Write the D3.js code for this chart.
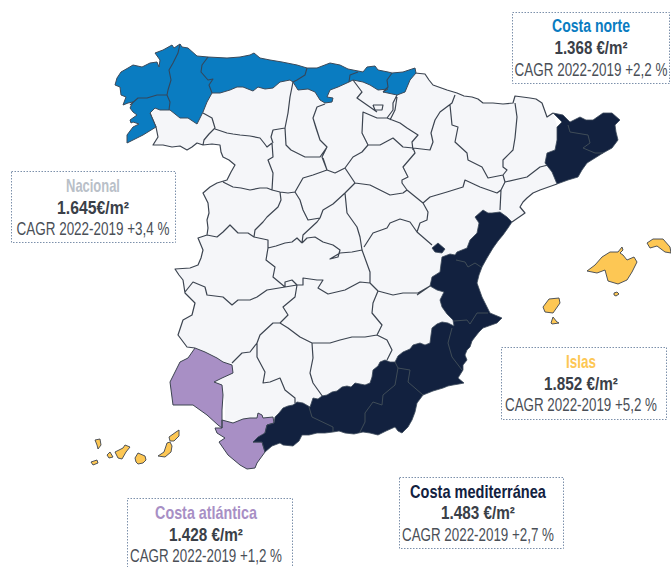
<!DOCTYPE html>
<html>
<head>
<meta charset="utf-8">
<script src="https://cdn.jsdelivr.net/npm/d3@7"></script>
<style>
html, body { margin: 0; padding: 0; background: #fff; }
svg { display: block; }
</style>
</head>
<body>
<script>
// map geometry, planar units of the picture
var interiorLand = [[150,113],[156,127],[158,137],[153,145],[163,145],[172,147],[180,146],[187,150],[192,147],[197,143],[203,145],[212,144],[220,145],[221,152],[223,157],[229,160],[235,165],[231,172],[227,180],[217,183],[210,187],[203,193],[208,203],[209,213],[207,220],[208,228],[207,235],[198,238],[203,250],[201,258],[198,265],[190,268],[175,269],[179,275],[183,280],[185,293],[195,303],[192,315],[183,320],[178,335],[187,347],[195,348],[195,365],[225,400],[225,420],[275,420],[350,400],[440,340],[460,320],[470,290],[470,250],[490,230],[512,222],[525,213],[520,207],[523,202],[527,198],[533,193],[540,190],[557,184],[565,150],[553,113],[547,117],[542,103],[536,99],[530,98],[515,96],[513,103],[503,104],[493,103],[483,103],[478,99],[472,97],[464,96],[457,93],[447,90],[433,85],[429,80],[425,74],[415,73],[380,70],[200,70],[160,100]];

var costaNorte = [[127,143],[127,135],[133,127],[139,124],[133,122],[131,123],[130,120],[137,115],[133,112],[130,108],[133,102],[128,103],[123,105],[126,97],[121,95],[120,87],[115,85],[117,78],[121,72],[128,68],[133,65],[142,67],[150,63],[157,62],[159,67],[160,60],[155,53],[163,50],[172,45],[174,48],[180,44],[182,47],[188,48],[197,56],[208,57],[227,58],[240,57],[250,55],[254,53],[260,58],[270,60],[282,62],[297,65],[307,68],[317,68],[330,63],[340,65],[348,69],[358,71],[363,72],[367,67],[375,66],[378,70],[388,72],[392,73],[403,72],[415,68],[416,73],[410,80],[405,92],[397,95],[383,92],[388,89],[378,90],[370,85],[363,82],[353,80],[349,82],[338,87],[330,90],[327,97],[333,98],[332,102],[325,103],[320,100],[315,92],[308,89],[298,90],[293,82],[290,80],[280,82],[273,88],[265,89],[258,87],[253,91],[243,87],[237,87],[230,90],[220,93],[212,93],[207,102],[203,112],[200,118],[197,124],[188,118],[180,118],[170,110],[160,110],[155,108],[150,113],[156,127],[143,135]];

var huelva = [[195,348],[205,352],[217,358],[223,362],[232,365],[233,373],[222,378],[214,382],[222,385],[223,395],[222,410],[222,428],[218,425],[207,415],[193,405],[173,405],[170,382],[180,362],[188,358]];
var cadiz = [[215,428],[222,428],[222,420],[233,423],[243,419],[250,418],[257,418],[258,413],[262,415],[263,418],[273,417],[274,423],[267,425],[265,433],[258,440],[253,442],[262,442],[265,452],[257,463],[255,468],[247,469],[240,465],[228,455],[219,442],[225,438],[217,433]];

var costaMedSur = [[253,442],[258,437],[265,433],[267,425],[274,423],[275,417],[279,413],[283,408],[288,406],[293,405],[297,402],[303,403],[310,407],[313,398],[318,399],[322,396],[327,395],[332,392],[337,391],[342,387],[347,386],[351,387],[355,383],[360,384],[365,385],[370,383],[372,377],[373,370],[378,366],[380,362],[385,360],[390,362],[395,362],[398,356],[403,352],[410,349],[413,345],[420,343],[425,345],[430,343],[431,335],[432,328],[437,324],[442,322],[448,323],[454,326],[453,320],[447,314],[442,307],[440,300],[444,292],[437,290],[430,286],[432,277],[440,272],[441,264],[442,257],[450,254],[455,255],[457,252],[467,248],[470,240],[477,233],[479,223],[475,217],[483,210],[488,213],[492,213],[500,212],[507,217],[512,222],[508,228],[503,235],[498,241],[493,248],[487,258],[482,267],[479,275],[477,283],[482,297],[486,305],[490,313],[502,318],[497,323],[483,328],[479,332],[475,337],[472,341],[470,347],[467,350],[465,355],[467,360],[463,365],[463,370],[458,378],[464,383],[459,384],[453,385],[448,386],[443,388],[433,391],[423,395],[420,399],[417,403],[415,412],[412,420],[408,427],[402,433],[398,431],[395,427],[386,431],[378,435],[370,433],[363,432],[354,434],[345,433],[339,431],[333,432],[325,433],[317,433],[309,435],[302,435],[299,441],[293,446],[283,445],[280,443],[272,446],[265,452],[262,442]];
var rincon = [[432,248],[438,243],[445,249],[442,253],[435,252]];
var costaMedNorte = [[553,113],[563,115],[570,122],[580,117],[586,120],[593,120],[603,113],[612,113],[620,120],[615,125],[616,132],[618,140],[612,148],[603,153],[595,158],[587,163],[582,170],[578,177],[568,180],[557,184],[552,172],[545,163],[547,153],[555,150],[557,140],[557,127],[562,122]];

var islasBaleares = [
  [[587,271],[595,265],[602,257],[610,252],[618,252],[622,247],[623,250],[620,253],[623,255],[627,260],[634,257],[637,262],[632,272],[627,280],[618,284],[608,281],[605,270],[597,273]],
  [[647,243],[653,239],[663,239],[670,247],[671,253],[665,252],[657,246],[650,248]],
  [[614,293],[617,292],[619,294],[616,296],[614,295]],
  [[543,307],[549,299],[559,298],[560,303],[553,313],[545,312]],
  [[551,323],[553,317],[557,322],[559,323],[552,324]]
];
var islasCanarias = [
  [[169,437],[176,432],[179,430],[179,436],[174,441],[170,441]],
  [[158,456],[164,452],[167,443],[170,442],[172,446],[171,452],[165,457]],
  [[135,458],[138,453],[145,456],[146,460],[143,463],[138,464],[136,462]],
  [[115,452],[123,448],[125,445],[130,447],[126,452],[122,459],[118,458]],
  [[107,455],[110,452],[113,457],[109,458]],
  [[95,440],[100,439],[101,445],[98,449],[97,445]],
  [[91,462],[97,460],[98,463],[93,465]]
];

// province borders
var bordesInterior = [
  [[203,113],[212,118],[215,128],[209,134],[204,140],[203,145]],
  [[215,129],[227,133],[233,134],[240,135],[250,136],[260,138],[264,143],[267,147],[272,143]],
  [[293,82],[290,97],[288,113],[285,128],[273,130],[271,137],[273,143]],
  [[285,128],[286,145],[291,150],[297,153],[305,157],[320,157],[327,147],[320,140],[316,128],[313,118],[317,107],[325,104]],
  [[272,143],[273,157],[268,160],[273,173],[272,190]],
  [[323,158],[327,170],[313,175],[303,178],[295,192],[288,193],[280,192],[272,190]],
  [[223,182],[233,187],[241,188],[250,190],[260,188],[267,188],[272,190]],
  [[280,192],[281,200],[278,207],[267,217],[263,222],[255,230],[254,237]],
  [[207,235],[217,237],[223,232],[230,225],[238,233],[248,233],[254,237],[268,240],[268,248],[276,246],[285,243],[292,242],[297,238],[302,243]],
  [[295,192],[300,200],[303,210],[308,220],[320,218]],
  [[320,218],[317,222],[303,235],[302,243]],
  [[320,218],[323,210],[333,204],[345,193],[347,213],[357,227],[360,237],[362,250]],
  [[302,243],[307,238],[315,237],[323,242],[333,245],[340,250],[338,257],[330,259],[340,253],[352,252],[362,250]],
  [[364,247],[373,233],[387,228],[390,223],[400,219],[410,222],[417,232],[432,245]],
  [[417,232],[420,223],[427,220],[428,212],[423,203],[430,197],[447,192],[463,187],[465,180],[480,187],[497,193],[501,190],[505,182]],
  [[345,193],[355,183],[370,185],[380,190],[390,195],[403,193],[407,190],[423,203]],
  [[407,190],[402,183],[402,180],[408,177],[403,167],[415,153],[413,148]],
  [[317,107],[313,118],[320,140],[327,147],[322,157],[327,170],[335,173],[345,168],[355,183]],
  [[345,168],[353,157],[362,152],[368,145],[362,133],[363,112],[377,118],[387,118],[393,110],[393,103],[397,95]],
  [[353,80],[362,92],[357,98],[367,105],[377,112]],
  [[373,105],[383,105],[382,110],[375,110],[373,105]],
  [[368,145],[380,145],[393,138],[403,147],[413,148]],
  [[387,118],[400,123],[407,128],[418,135],[412,142],[413,150]],
  [[397,97],[395,110],[390,120]],
  [[455,95],[452,103],[440,112],[435,120],[431,133],[433,142],[430,150],[413,148]],
  [[450,105],[452,125],[458,127],[455,142],[467,153],[468,160],[482,167],[488,178],[503,175]],
  [[515,103],[517,117],[515,138],[513,150],[503,160],[503,167],[507,170],[503,175],[505,182]],
  [[505,182],[527,177],[540,167],[548,165]],
  [[501,190],[500,210]],
  [[417,295],[430,286]],
  [[362,250],[370,272],[370,283],[378,291],[393,295],[403,293],[418,293],[430,286]],
  [[297,285],[303,285],[303,278],[317,280],[323,280],[318,288],[328,294],[345,290],[360,282],[370,283]],
  [[285,287],[285,282],[292,280],[297,285]],
  [[268,248],[266,260],[275,267],[273,277],[285,287]],
  [[185,292],[193,282],[205,287],[207,295],[223,297],[232,305],[238,300],[250,300],[257,297],[267,290],[285,287],[297,285]],
  [[297,285],[295,297],[283,307],[288,315],[280,323]],
  [[280,323],[273,323],[260,335],[257,343],[257,357],[265,372],[263,383],[270,382],[280,378],[285,390],[295,398],[295,403]],
  [[232,363],[242,353],[250,352],[257,343]],
  [[280,323],[288,328],[300,337],[312,343],[330,343],[340,340],[352,337],[365,337],[377,335],[387,340],[392,350],[387,360]],
  [[312,343],[313,358],[310,373],[313,383],[323,397]],
  [[378,291],[373,303],[372,313],[382,325],[377,335]]
];
var bordesCosta = [
  [[512,222],[525,213],[520,207],[523,202],[527,198],[533,193],[540,190],[557,184]],
  [[553,113],[547,117],[542,103],[536,99],[530,98],[515,96],[513,103],[503,104],[493,103],[483,103],[478,99],[472,97],[464,96],[457,93],[447,90],[433,85],[429,80],[425,74],[415,73]],
  [[150,113],[156,127],[158,137],[153,145],[163,145],[172,147],[180,146],[187,150],[192,147],[197,143],[203,145],[212,144],[220,145],[221,152],[223,157],[229,160],[235,165],[231,172],[227,180],[217,183],[210,187],[203,193],[208,203],[209,213],[207,220],[208,228],[207,235],[198,238],[203,250],[201,258],[198,265],[190,268],[175,269],[179,275],[183,280],[185,293],[195,303],[192,315],[183,320],[178,335],[187,347],[195,348]]
];
var bordesNorte = [
  [[180,44],[178,53],[173,63],[169,70],[171,80],[168,90],[167,95],[170,102],[169,110]],
  [[167,95],[157,95],[147,98],[138,98],[130,105]],
  [[208,57],[202,65],[201,72],[208,80],[213,79],[209,85],[212,93]],
  [[307,68],[305,75],[297,80],[293,82]],
  [[358,72],[350,75],[349,82]],
  [[392,73],[387,80],[388,87],[383,92]]
];
var bordesMed = [
  [[456,260],[465,262],[468,267],[475,263],[481,267]],
  [[454,321],[467,320],[470,324],[477,313],[488,313]],
  [[452,328],[448,343],[452,357],[462,370]],
  [[395,362],[398,368],[410,370],[408,382],[423,395]],
  [[398,368],[395,385],[383,395],[382,405],[373,402],[365,413],[365,422],[360,432]],
  [[309,407],[312,417],[333,427],[333,432]],
  [[568,125],[570,132],[588,135],[590,143],[583,148],[595,153],[603,153]]
];

// rent boxes
var regiones = ["Nacional", "Costa norte", "Islas", "Costa atlántica", "Costa mediterránea"];
var precios = ["1.645€/m²", "1.368 €/m²", "1.852 €/m²", "1.428 €/m²", "1.483 €/m²"];
var cagr = ["CAGR 2022-2019 +3,4 %", "CAGR 2022-2019 +2,2 %", "CAGR 2022-2019 +5,2 %", "CAGR 2022-2019 +1,2 %", "CAGR 2022-2019 +2,7 %"];
var coloresTitulo = ["#b9c0c8", "#0a7cc1", "#fdc754", "#a88fc5", "#12213f"];

// box frame and text widths, per region
var cajas = [
  {x: 11, y: 171, w: 164, h: 71, cx: 93, base: [192, 214, 235], len: [54, 72, 153]},
  {x: 512, y: 12, w: 157, h: 71, cx: 591, base: [32, 54, 76], len: [78, 73, 153]},
  {x: 501, y: 347, w: 165, h: 72, cx: 581, base: [368, 390, 411], len: [30, 74, 152]},
  {x: 127, y: 498, w: 165, h: 72, cx: 206, base: [519, 541, 562], len: [102, 74, 152]},
  {x: 399, y: 477, w: 164, h: 71, cx: 478, base: [498, 519, 541], len: [136, 74, 152]}
];

var W = 671, H = 567;
var svg = d3.select("body").append("svg").attr("width", W).attr("height", H);
var path = d3.geoPath(d3.geoIdentity());

function poly(rings) {
  return {type: "MultiPolygon", coordinates: rings.map(function(r) {
    return [r.concat([r[0]])];
  })};
}
function lines(ls) {
  return {type: "MultiLineString", coordinates: ls};
}

var capas = [
  {geo: poly([interiorLand]), fill: "#f5f6f9"},
  {geo: lines(bordesInterior.concat(bordesCosta)), fill: "none", stroke: "#3c4450", sw: 1.2},
  {geo: poly([costaNorte]), fill: "#0a7cc1", stroke: "#3c4a5a", sw: 1},
  {geo: lines(bordesNorte), fill: "none", stroke: "#34475c", sw: 1.1},
  {geo: poly([huelva, cadiz]), fill: "#a88fc5", stroke: "#3c4450", sw: 1},
  {geo: poly([costaMedSur, rincon, costaMedNorte]), fill: "#12213f", stroke: "#3c4a5a", sw: 0.8},
  {geo: lines(bordesMed), fill: "none", stroke: "#3f4c57", sw: 1},
  {geo: poly(islasBaleares.concat(islasCanarias)), fill: "#fdc754", stroke: "#3c4450", sw: 0.9}
];

svg.selectAll(".capa")
  .data(capas)
  .enter()
  .append("path")
  .attr("class", "capa")
  .attr("d", function(d) { return path(d.geo); })
  .attr("fill", function(d) { return d.fill; })
  .attr("stroke", function(d) { return d.stroke || "none"; })
  .attr("stroke-width", function(d) { return d.sw || 0; })
  .attr("stroke-linejoin", "round");

var caja = svg.selectAll(".caja")
  .data(regiones)
  .enter()
  .append("g")
  .attr("class", "caja");

caja.append("rect")
  .attr("x", function(d, i) { return cajas[i].x + 0.5; })
  .attr("y", function(d, i) { return cajas[i].y + 0.5; })
  .attr("width", function(d, i) { return cajas[i].w; })
  .attr("height", function(d, i) { return cajas[i].h; })
  .attr("fill", "#fff")
  .attr("stroke", "#7c90ab")
  .attr("stroke-width", 1)
  .attr("stroke-dasharray", "1.5,1.5");

// text is squeezed sideways to the condensed widths of the original
function linea(k, texto, color, peso, size) {
  caja.append("text")
    .attr("text-anchor", "middle")
    .attr("font-family", "'Liberation Sans', sans-serif")
    .attr("font-weight", peso)
    .attr("font-size", size)
    .attr("fill", color)
    .text(texto)
    .each(function(d, i) {
      var sx = cajas[i].len[k] / this.getComputedTextLength();
      d3.select(this).attr("transform", "translate(" + cajas[i].cx + "," + cajas[i].base[k] + ") scale(" + sx + ",1)");
    });
}
linea(0, function(d) { return d; }, function(d, i) { return coloresTitulo[i]; }, 700, 17.5);
linea(1, function(d, i) { return precios[i]; }, "#3a4048", 700, 17.5);
linea(2, function(d, i) { return cagr[i]; }, "#4a4f57", 400, 18);
</script>
</body>
</html>
